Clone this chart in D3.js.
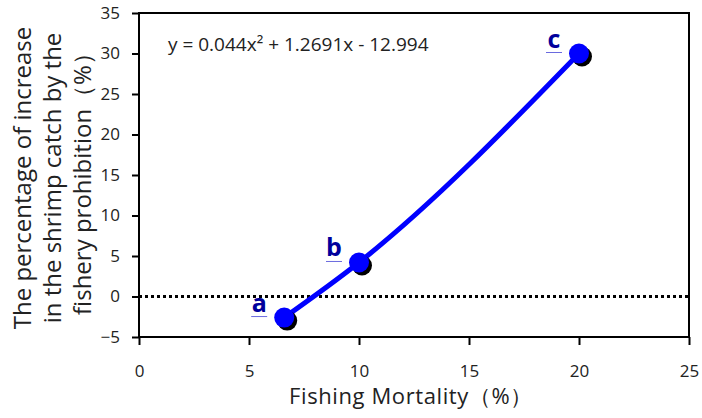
<!DOCTYPE html>
<html lang="en">
<head>
  <meta charset="UTF-8">
  <style>
    body { margin: 0; background: white; }
    svg { display: block; }
    text { font-family: "Open Sans", "Noto Sans", sans-serif; }
    .tick text { font-size: 17px; fill: #222; }
    .tick line, .domain { stroke: #000; stroke-width: 2px; }
    .lbl { font-weight: bold; font-size: 25px; fill: #00009c; }
  </style>
</head>
<body>
  <script src="https://d3js.org/d3.v7.min.js"></script>
  <svg></svg>
  <script>
// data
const labels = ["a", "b", "c"];
const mortality = [6.6, 10, 20];
const increase = [-2.6, 4.2, 30.0];
const xTicks = [0, 5, 10, 15, 20, 25];
const yTicks = [-5, 0, 5, 10, 15, 20, 25, 30, 35];
const equation = "y = 0.044x² + 1.2691x - 12.994";

const w = 702, h = 418;
const mLeft = 139, mRight = 689, mTop = 13, mBottom = 337;

const svg = d3.select("svg").attr("width", w).attr("height", h);

const x = d3.scaleLinear().domain([0, 25]).range([mLeft, mRight]);
const y = d3.scaleLinear().domain([-5, 35]).range([mBottom, mTop]);

// frame
svg.append("rect")
   .attr("x", mLeft).attr("y", mTop)
   .attr("width", mRight - mLeft).attr("height", mBottom - mTop)
   .attr("fill", "none").attr("stroke", "#000").attr("stroke-width", 2);

// axes
svg.append("g")
   .attr("transform", `translate(0,${mBottom})`)
   .call(d3.axisBottom(x).tickValues(xTicks).tickSize(8).tickPadding(20).tickSizeOuter(0))
   .call(g => g.select(".domain").remove());

svg.append("g")
   .attr("transform", `translate(${mLeft},0)`)
   .call(d3.axisLeft(y).tickValues(yTicks).tickSize(7).tickPadding(12).tickSizeOuter(0))
   .call(g => g.select(".domain").remove());

// zero line
svg.append("line")
   .attr("x1", mLeft).attr("x2", mRight)
   .attr("y1", y(0)).attr("y2", y(0))
   .attr("stroke", "#000").attr("stroke-width", 3)
   .attr("stroke-dasharray", "3,3");

const pts = mortality.map((m, i) => ({x: m, y: increase[i], l: labels[i]}));

// trend curve
svg.append("path")
   .datum(pts)
   .attr("d", d3.line().x(d => x(d.x)).y(d => y(d.y)).curve(d3.curveMonotoneX))
   .attr("fill", "none").attr("stroke", "#0000ff").attr("stroke-width", 5);

// markers with shadow
svg.selectAll(".shadow").data(pts).enter().append("circle")
   .attr("cx", d => x(d.x) + 3).attr("cy", d => y(d.y) + 3)
   .attr("r", 10).attr("fill", "#000");
svg.selectAll(".dot").data(pts).enter().append("circle")
   .attr("cx", d => x(d.x)).attr("cy", d => y(d.y))
   .attr("r", 10).attr("fill", "#0000ff");

// point labels
const lab = svg.selectAll(".lg").data(pts).enter().append("g");
lab.append("text")
   .attr("class", "lbl")
   .attr("x", d => x(d.x) - 25).attr("y", d => y(d.y) - 6)
   .attr("text-anchor", "middle")
   .text(d => d.l);
lab.append("line")
   .attr("x1", d => x(d.x) - 33).attr("x2", d => x(d.x) - 17)
   .attr("y1", d => y(d.y) - 1).attr("y2", d => y(d.y) - 1)
   .attr("stroke", "#6a6adf").attr("stroke-width", 1);

// equation
svg.append("text")
   .attr("x", 168).attr("y", 51)
   .attr("font-size", 19).attr("fill", "#222")
   .text(equation);

// axis titles
svg.append("text")
   .attr("x", 411).attr("y", 404)
   .attr("text-anchor", "middle").attr("font-size", 22)
   .attr("letter-spacing", 0.6).attr("fill", "#222")
   .text("Fishing Mortality（%）");

const yt = ["The percentage of increase", "in the shrimp catch by the", "fishery prohibition（%）"];
svg.append("text")
   .attr("transform", "translate(0,178) rotate(-90)")
   .attr("text-anchor", "middle").attr("font-size", 24).attr("fill", "#222")
   .selectAll("tspan").data(yt).enter().append("tspan")
   .attr("x", 0).attr("y", (d, i) => 31 + i * 30)
   .text(d => d);
  </script>
</body>
</html>
